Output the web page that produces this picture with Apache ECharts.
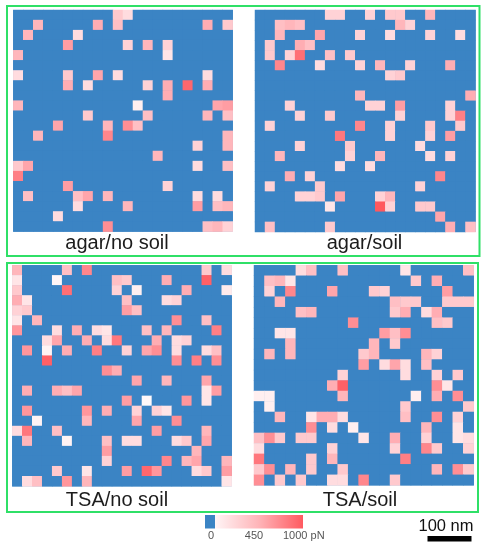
<!DOCTYPE html>
<html><head><meta charset="utf-8">
<style>html,body{margin:0;padding:0;background:#fff}#c{width:487px;height:550px;filter:blur(0.4px)}</style>
<script src="https://cdn.jsdelivr.net/npm/echarts@6/dist/echarts.min.js"></script>
</head><body><div id="c"></div>
<script>
// Each panel: one entry per row, each a list of [column, force in pN]; unlisted cells are 0.
const agarNoSoil = [
 [[10,300],[11,200]],
 [[2,400],[8,450],[10,350],[19,450],[21,300]],
 [[1,400],[6,200]],
 [[5,550],[11,250],[13,400],[15,250]],
 [[0,400],[15,150]],
 [],
 [[0,200],[5,300],[8,500],[10,200],[19,200]],
 [[5,450],[7,200],[13,250],[15,450],[17,900],[19,450]],
 [[15,450]],
 [[0,400],[12,100],[20,500],[21,550]],
 [[7,300],[13,350],[19,400],[21,350]],
 [[4,500],[9,400],[11,650],[12,350]],
 [[2,400],[9,700],[21,400]],
 [[18,250],[21,400]],
 [[14,400]],
 [[0,300],[1,500],[18,200],[21,350]],
 [[0,750]],
 [[5,550],[15,250]],
 [[1,350],[6,350],[7,500],[9,400],[18,200],[20,200]],
 [[6,200],[11,400],[18,550],[20,350],[21,400]],
 [[4,200]],
 [[9,650],[19,350],[20,400],[21,250]]
];
const agarSoil = [
 [[7,250],[8,250],[11,250],[13,300],[14,300],[17,400]],
 [[2,350],[3,400],[4,350],[14,400],[15,250]],
 [[2,400],[6,500],[10,250],[13,200],[17,250],[20,200]],
 [[1,300],[4,450],[5,350]],
 [[1,300],[3,250],[4,850],[7,350],[9,300]],
 [[2,700],[6,200],[10,250],[12,400],[15,250],[19,450]],
 [[13,250],[14,300]],
 [],
 [[10,400],[21,450]],
 [[3,250],[11,250],[12,250],[14,550],[19,250]],
 [[4,250],[7,300],[14,250],[19,250],[20,750]],
 [[1,250],[10,700],[13,250],[17,300],[20,300]],
 [[8,800],[13,250],[17,250],[19,550]],
 [[4,250],[9,300],[16,200]],
 [[2,400],[9,250],[12,400],[17,200],[19,250]],
 [[8,200],[11,200]],
 [[3,450],[5,250],[18,700]],
 [[1,250],[6,300],[16,250]],
 [[4,250],[5,250],[6,300],[8,500],[12,250],[13,400]],
 [[7,150],[12,1000],[13,250],[16,300],[17,300]],
 [[18,500]],
 [[1,350],[7,300],[19,450],[21,350]]
];
const tsaNoSoil = [
 [[0,400],[5,350],[7,700],[19,300],[21,200]],
 [[0,150],[4,60],[10,350],[11,300],[15,450],[19,950]],
 [[0,300],[5,850],[10,250],[12,100],[17,450],[21,120]],
 [[0,450],[1,150],[11,350],[15,200],[16,250]],
 [[0,250],[1,300],[11,550],[12,350]],
 [[0,150],[2,400],[16,650],[19,350]],
 [[0,600],[4,200],[6,450],[8,200],[9,150],[13,350],[15,400],[20,750]],
 [[3,200],[4,500],[7,450],[9,200],[10,800],[14,450],[16,200],[17,250]],
 [[1,600],[3,80],[5,450],[8,750],[11,250],[13,500],[14,650],[16,200],[19,200],[20,350]],
 [[3,950],[16,650],[18,750],[20,650]],
 [[9,650],[10,450]],
 [[12,500],[15,400],[19,500]],
 [[1,450],[4,450],[5,350],[6,500],[19,150],[20,550]],
 [[11,550],[13,50],[17,600],[19,150]],
 [[1,600],[7,600],[9,450],[12,250],[14,250],[15,150]],
 [[2,80],[7,400],[12,500],[16,650]],
 [[0,200],[1,800],[4,350],[14,550],[19,400]],
 [[1,400],[5,80],[9,350],[11,200],[12,200],[16,200],[17,300],[19,500]],
 [[9,550],[18,400]],
 [[9,250],[15,700],[17,400],[18,500],[21,400]],
 [[4,300],[7,150],[11,550],[13,900],[14,600],[18,200],[19,300],[21,550]],
 [[1,200],[2,350],[5,600],[7,400],[21,150]]
];
const tsaSoil = [
 [[4,200],[5,350],[8,350],[14,150],[20,350]],
 [[1,350],[2,400],[3,150],[15,300],[17,450]],
 [[1,250],[3,700],[7,500],[11,300],[12,250],[18,550]],
 [[2,400],[13,350],[14,300],[15,300],[18,300],[19,300],[20,300]],
 [[4,350],[5,400],[13,300],[14,450],[16,200],[17,450]],
 [[9,650],[17,350],[18,300]],
 [[2,150],[3,150],[12,550],[13,350],[14,650]],
 [[3,400],[11,400],[13,300]],
 [[1,400],[3,400],[10,300],[11,400],[16,400],[17,250]],
 [[10,550],[12,200],[13,500],[14,200],[16,350]],
 [[8,250],[14,200],[17,250],[19,300]],
 [[7,450],[8,950],[17,650],[18,150]],
 [[0,100],[1,100],[8,400],[15,100],[17,450],[19,650]],
 [[1,100],[14,300],[20,300]],
 [[2,400],[5,150],[6,450],[7,450],[8,200],[14,350],[17,650],[19,250]],
 [[5,650],[7,200],[9,100],[16,400],[19,150]],
 [[0,350],[1,650],[2,300],[4,300],[5,300],[10,150],[13,450],[16,250],[19,150],[20,200]],
 [[0,200],[7,250],[13,250],[16,700],[17,300],[20,250]],
 [[0,800],[5,300],[7,400],[14,750]],
 [[0,300],[1,650],[3,400],[5,300],[8,300],[17,400],[19,650],[20,300]],
 [[0,650],[2,300],[4,300],[7,200],[8,200],[10,700],[13,300]]
];
const panelTitles = ['agar/no soil','agar/soil','TSA/no soil','TSA/soil'];
const colorbarTicks = ['0','450','1000 pN'];
const scaleBarLabel = '100 nm';

const BLUE='#3b84c4', GREEN='#2fe067';
const panels=[
 {d:agarNoSoil,n:22,l:13.3,t:10,w:219.4,h:221.6,tx:117,ty:243},
 {d:agarSoil,n:22,l:255,t:10,w:220.5,h:222,tx:364.5,ty:243},
 {d:tsaNoSoil,n:22,l:12.3,t:265.3,w:219.4,h:221,tx:117,ty:500},
 {d:tsaSoil,n:21,l:254,t:265.3,w:219.7,h:220,tx:360,ty:500}
];
// color stops: blue exactly at 0, then white-pink to red from 50 to 1000
const ramp=[BLUE];
for(let i=0;i<20;i++){const k=i/19;
  const g=k<.4?248-(k/.4)*(248-176):176-((k-.4)/.6)*(176-88);
  const b=k<.4?249-(k/.4)*(249-182):182-((k-.4)/.6)*(182-94);
  ramp.push(`rgb(255,${Math.round(g)},${Math.round(b)})`);
}
const grid=[],xAxis=[],yAxis=[],series=[];
panels.forEach((p,i)=>{
  const idx=[...Array(p.n).keys()];
  grid.push({left:p.l,top:p.t,width:p.w,height:p.h,show:true,backgroundColor:BLUE,borderWidth:0});
  xAxis.push({type:'category',gridIndex:i,data:idx,show:false});
  yAxis.push({type:'category',gridIndex:i,data:idx,show:false,inverse:true});
  const cells=[];
  for(const r of idx){const m=new Map(p.d[r]);for(const c of idx)cells.push([c,r,m.get(c)||0]);}
  series.push({type:'heatmap',xAxisIndex:i,yAxisIndex:i,data:cells,animation:false,progressive:0,
    itemStyle:{borderWidth:0},emphasis:{disabled:true}});
});
const gr=[
 {type:'rect',shape:{x:7,y:6,width:472.5,height:250},style:{fill:'none',stroke:GREEN,lineWidth:2}},
 {type:'rect',shape:{x:7,y:263,width:471,height:249},style:{fill:'none',stroke:GREEN,lineWidth:2}},
 {type:'rect',shape:{x:205,y:515,width:10,height:13.5},style:{fill:BLUE}},
 {type:'rect',shape:{x:215,y:515,width:88,height:13.5},style:{fill:{type:'linear',x:0,y:0,x2:1,y2:0,
   colorStops:[{offset:0,color:'#fff5f6'},{offset:.5,color:'#ffb4b8'},{offset:1,color:'#ff5a60'}]}}},
 {type:'rect',shape:{x:427.5,y:536,width:44,height:5.5},style:{fill:'#000'}}
];
panels.forEach((p,i)=>gr.push({type:'text',x:p.tx,y:p.ty,style:{text:panelTitles[i],fill:'#1c1c1c',
  font:'20px "Liberation Sans"',align:'center',verticalAlign:'middle'}}));
[[211,'center'],[254,'center'],[283,'left']].forEach(([x,a],i)=>gr.push({type:'text',x,y:535.5,style:{text:colorbarTicks[i],
  fill:'#555',font:'11px "Liberation Sans"',align:a,verticalAlign:'middle'}}));
gr.push({type:'text',x:446,y:526,style:{text:scaleBarLabel,fill:'#111',font:'16.5px "Liberation Sans"',align:'center',verticalAlign:'middle'}});
const chart=echarts.init(document.getElementById('c'),null,{renderer:'canvas'});
chart.setOption({animation:false,backgroundColor:'#fff',tooltip:{show:false},grid,xAxis,yAxis,series,graphic:gr,
  visualMap:{show:false,type:'continuous',min:0,max:1000,seriesIndex:[0,1,2,3],inRange:{color:ramp}}});
</script></body></html>
